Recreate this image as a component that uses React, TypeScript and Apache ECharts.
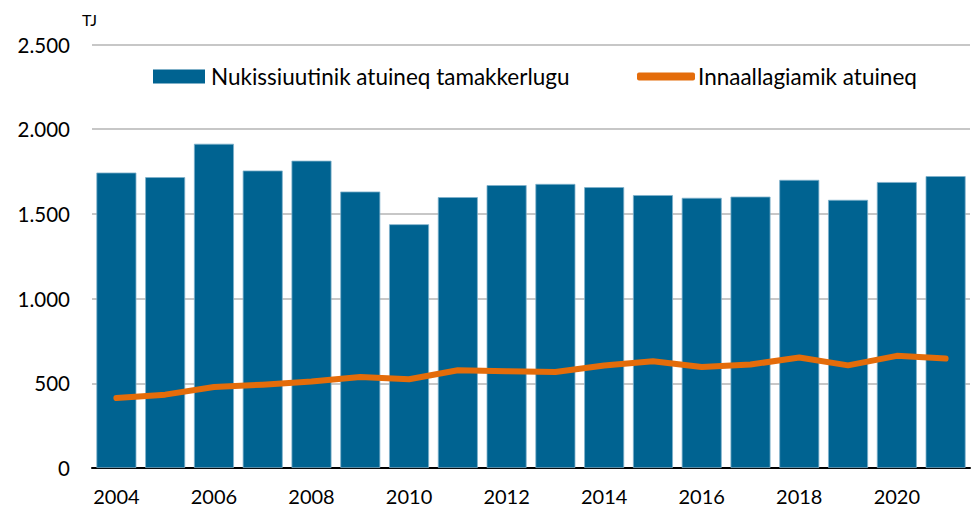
import React, { useEffect, useRef } from "react";
import * as echarts from "echarts";

const years = [
  "2004", "2005", "2006", "2007", "2008", "2009", "2010", "2011", "2012",
  "2013", "2014", "2015", "2016", "2017", "2018", "2019", "2020", "2021",
];
const totalUse = [
  1744, 1717, 1914, 1756, 1814, 1632, 1439, 1599, 1670,
  1677, 1658, 1611, 1595, 1602, 1701, 1583, 1688, 1723,
];
const domesticUse = [
  413, 433, 478, 492, 510, 537, 524, 577, 571,
  567, 605, 630, 596, 611, 652, 606, 662, 646,
];
const barName = "Nukissiuutinik atuineq tamakkerlugu";
const lineName = "Innaallagiamik atuineq";
const unitLabel = "TJ";

const FONT = "Lato, 'Open Sans', sans-serif";

export default function App() {
  const ref = useRef<HTMLDivElement>(null);
  useEffect(() => {
    if (!ref.current) return;
    const chart = echarts.init(ref.current, undefined, { renderer: "svg" });
    chart.setOption({
      animation: false,
      textStyle: { fontFamily: FONT, color: "#000" },
      grid: { left: 92, right: 6, top: 44.5, bottom: 43, containLabel: false },
      legend: [
        {
          data: [barName],
          left: 153,
          top: 65,
          padding: 0,
          icon: "rect",
          itemWidth: 52,
          itemHeight: 14,
          itemStyle: { borderWidth: 0 },
          textStyle: { fontFamily: FONT, fontSize: 22.5, color: "#000", padding: [0, 0, 0, 1] },
        },
        {
          data: [lineName],
          left: 637,
          top: 65,
          padding: 0,
          icon: "roundRect",
          itemWidth: 58,
          itemHeight: 8,
          itemStyle: { borderWidth: 0 },
          textStyle: { fontFamily: FONT, fontSize: 22.5, color: "#000", padding: [0, 0, 0, -2] },
        },
      ],
      graphic: [
        {
          type: "text",
          left: 82,
          top: 11,
          style: { text: unitLabel, fontFamily: FONT, fontSize: 16, fill: "#000" },
        },
      ],
      xAxis: {
        type: "category",
        data: years,
        axisTick: { show: false },
        axisLine: { lineStyle: { color: "#000", width: 2 } },
        axisLabel: {
          interval: 1,
          fontFamily: FONT,
          fontSize: 20,
          color: "#000",
          margin: 18,
        },
      },
      yAxis: {
        type: "value",
        min: 0,
        max: 2500,
        interval: 500,
        axisLine: { show: false },
        axisTick: { show: false },
        splitLine: { lineStyle: { color: "#b4b4b4", width: 1.5 } },
        axisLabel: {
          fontFamily: FONT,
          fontSize: 20.5,
          color: "#000",
          margin: 22,
          formatter: (v: number) => v.toString().replace(/\B(?=(\d{3})+(?!\d))/g, "."),
        },
      },
      series: [
        {
          name: barName,
          type: "bar",
          data: totalUse,
          barCategoryGap: "18%",
          itemStyle: { color: "#006391", borderColor: "#7fb1cc", borderWidth: 0.8 },
        },
        {
          name: lineName,
          type: "line",
          data: domesticUse,
          symbol: "none",
          smooth: false,
          lineStyle: { color: "#e46c0a", width: 6, cap: "round", join: "round" },
          itemStyle: { color: "#e46c0a" },
        },
      ],
    });
    return () => chart.dispose();
  }, []);
  return (
    <div
      ref={ref}
      style={{ position: "fixed", left: 0, top: 0, width: 976, height: 511, background: "#fff" }}
    />
  );
}
